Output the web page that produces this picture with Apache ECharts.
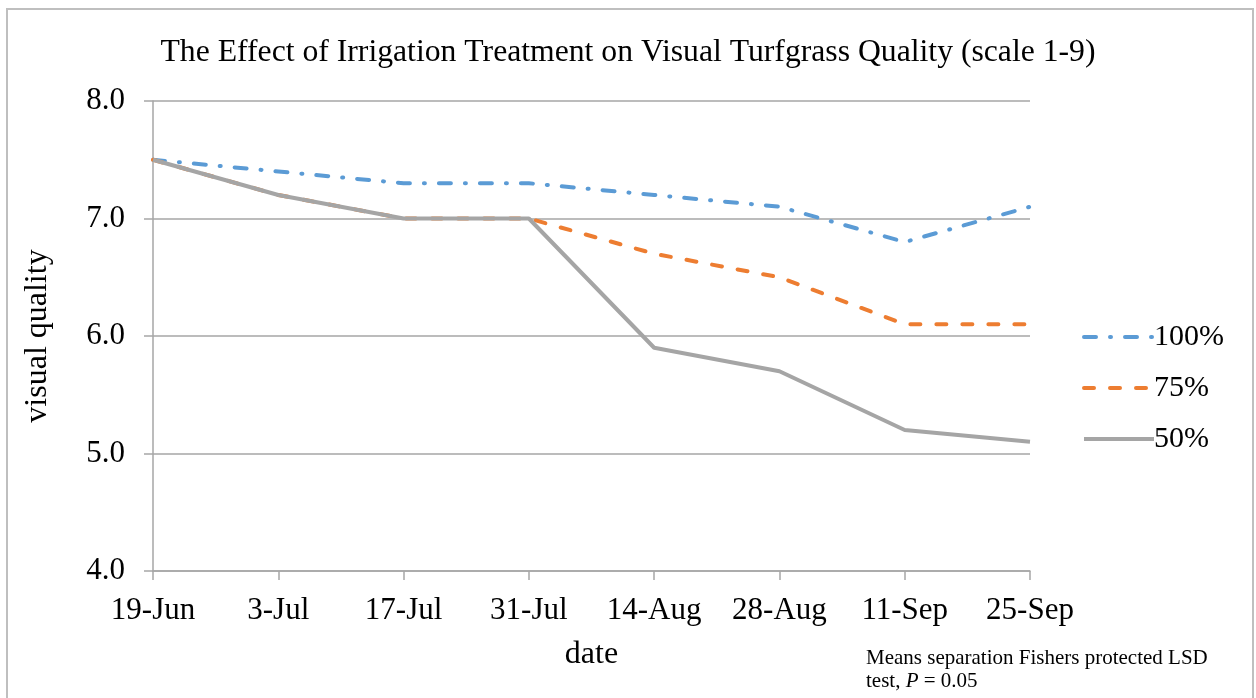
<!DOCTYPE html>
<html>
<head>
<meta charset="utf-8">
<script src="https://cdn.jsdelivr.net/npm/echarts@6/dist/echarts.min.js"></script>
<style>
    html, body { margin: 0; padding: 0; background: #fff; }
    .chart { width: 1256px; height: 698px; }
</style>
</head>
<body>
<div class="chart"></div>
<script>
const dates = ['19-Jun', '3-Jul', '17-Jul', '31-Jul', '14-Aug', '28-Aug', '11-Sep', '25-Sep']
const seriesNames = ['100%', '75%', '50%']
const full = [7.5, 7.4, 7.3, 7.3, 7.2, 7.1, 6.8, 7.1]
const threeQuarter = [7.5, 7.2, 7.0, 7.0, 6.7, 6.5, 6.1, 6.1]
const half = [7.5, 7.2, 7.0, 7.0, 5.9, 5.7, 5.2, 5.1]

;(function () {
    let chart = echarts.init(document.querySelector('.chart'))
    let font = "'Liberation Serif', 'Times New Roman', serif"
    let axisGray = '#a6a6a6'
    let option = {
        color: ['#5b9bd5', '#ed7d31', '#a5a5a5'],
        textStyle: { fontFamily: font, color: '#000' },
        title: {
            text: 'The Effect of Irrigation Treatment on Visual Turfgrass Quality (scale 1-9)',
            left: 'center',
            top: 32,
            textStyle: { fontFamily: font, fontSize: 31.7, fontWeight: 'normal', color: '#000' }
        },
        legend: {
            orient: 'vertical',
            left: 1077,
            top: 317,
            itemWidth: 70,
            itemHeight: 10,
            itemGap: 21,
            // 图例只要线，不要圆点
            itemStyle: { opacity: 0 },
            lineStyle: { width: 4 },
            textStyle: { fontFamily: font, fontSize: 30, lineHeight: 30, color: '#000', padding: [0, 0, 0, -5] },
            data: seriesNames
        },
        grid: {
            left: 153,
            right: 226,
            top: 101,
            bottom: 127
        },
        xAxis: {
            type: 'category',
            boundaryGap: false,
            data: dates,
            name: 'date',
            nameLocation: 'middle',
            nameGap: 68,
            nameTextStyle: { fontFamily: font, fontSize: 32, color: '#000' },
            axisLine: { lineStyle: { color: axisGray, width: 1.5 } },
            axisTick: { interval: 0, length: 9, lineStyle: { color: axisGray, width: 1.5 } },
            axisLabel: { interval: 0, fontFamily: font, fontSize: 31, color: '#000', margin: 24 }
        },
        yAxis: {
            type: 'value',
            min: 4,
            max: 8,
            interval: 1,
            name: 'visual quality',
            nameLocation: 'middle',
            nameGap: 99,
            nameTextStyle: { fontFamily: font, fontSize: 32, color: '#000' },
            axisLine: { show: true, lineStyle: { color: axisGray, width: 1.5 } },
            axisTick: { show: true, length: 9, lineStyle: { color: axisGray, width: 1.5 } },
            axisLabel: {
                fontFamily: font, fontSize: 31, color: '#000', margin: 28,
                formatter: function (v) { return v.toFixed(1) }
            },
            splitLine: { lineStyle: { color: axisGray, width: 1.5 } }
        },
        series: [
            {
                name: seriesNames[0],
                type: 'line',
                data: full,
                symbol: 'none',
                lineStyle: { width: 4, type: [12, 14, 1, 14], cap: 'round' }
            },
            {
                name: seriesNames[1],
                type: 'line',
                data: threeQuarter,
                symbol: 'none',
                lineStyle: { width: 4, type: [10, 16], cap: 'round' }
            },
            {
                name: seriesNames[2],
                type: 'line',
                data: half,
                symbol: 'none',
                lineStyle: { width: 4, type: 'solid' }
            }
        ],
        graphic: [
            {
                type: 'rect',
                shape: { x: 7, y: 9, width: 1246, height: 700 },
                style: { fill: 'none', stroke: '#bfbfbf', lineWidth: 2 },
                silent: true
            },
            {
                type: 'text',
                left: 866,
                top: 647,
                style: {
                    text: 'Means separation Fishers protected LSD\ntest, {i|P} = 0.05',
                    font: "21px 'Liberation Serif', serif",
                    fill: '#000',
                    lineHeight: 23,
                    rich: {
                        i: { fontStyle: 'italic', fontFamily: font, fontSize: 21, fill: '#000' }
                    }
                }
            }
        ]
    }
    chart.setOption(option)
    window.addEventListener('resize', function () {
        chart.resize()
    })
})()
</script>
</body>
</html>
